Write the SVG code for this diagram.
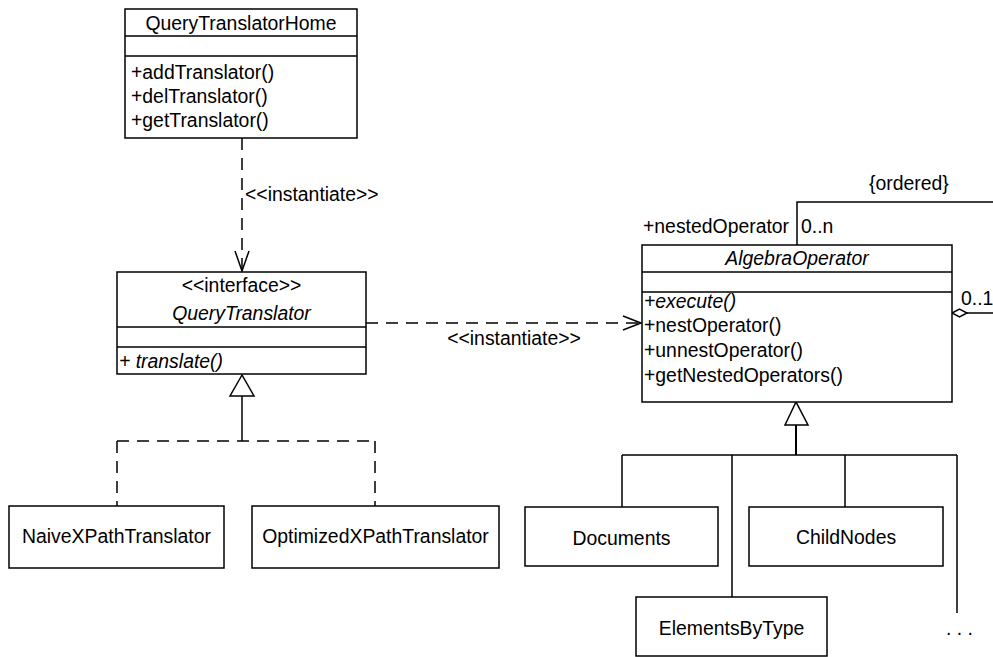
<svg xmlns="http://www.w3.org/2000/svg" width="993" height="657" viewBox="0 0 993 657">
<style>
.box{fill:#fff;stroke:#000;stroke-width:1.5}
.ln{fill:none;stroke:#000;stroke-width:1.5}
.dash{fill:none;stroke:#000;stroke-width:1.5;stroke-dasharray:12 8}
text{font-family:"Liberation Sans",Arial,Helvetica,sans-serif;font-size:19.4px;fill:#000}
.c{text-anchor:middle}
.i{font-style:italic}
</style>
<rect width="993" height="657" fill="#fff"/>
<g id="connectors">
  <path class="dash" d="M242,138 V270"/>
  <path class="ln" d="M235,251 L242,271 L249,251"/>
  <text x="245" y="201">&lt;&lt;instantiate&gt;&gt;</text>
  <path class="dash" d="M366,323 H640"/>
  <path class="ln" d="M623,316 L641,323 L623,330"/>
  <text class="c" x="514" y="345">&lt;&lt;instantiate&gt;&gt;</text>
  <polygon class="box" points="242,375 230,396 254,396"/>
  <path class="ln" d="M242,396 V441"/>
  <path class="dash" d="M117,441 H375 M117,441 V506 M375,441 V506"/>
  <polygon class="box" points="796,402 785,425 808,425"/>
  <path class="ln" style="stroke-width:2" d="M796,425 V455"/>
  <path class="ln" d="M622,455 H957 M622,455 V507 M732,455 V597 M845,455 V507 M957,455 V613"/>
  <path class="ln" d="M797,245 V202 H993 M967,313 H993"/>
  <polygon class="box" points="952,313 959.5,309 967,313 959.5,317"/>
  <text x="869" y="190">{ordered}</text>
  <text x="643" y="233">+nestedOperator</text>
  <text x="801" y="233">0..n</text>
  <text x="961" y="305">0..1</text>
</g>
<g id="QueryTranslatorHome">
  <rect class="box" x="125" y="9" width="232" height="129"/>
  <path class="ln" d="M125,36 H357 M125,56 H357"/>
  <text class="c" x="241" y="30">QueryTranslatorHome</text>
  <text x="131" y="79">+addTranslator()</text>
  <text x="131" y="103">+delTranslator()</text>
  <text x="131" y="127">+getTranslator()</text>
</g>
<g id="QueryTranslator">
  <rect class="box" x="117" y="272" width="249" height="102"/>
  <path class="ln" d="M117,327 H366 M117,347 H366"/>
  <text class="c" x="241.5" y="292">&lt;&lt;interface&gt;&gt;</text>
  <text class="c i" x="241.5" y="320">QueryTranslator</text>
  <text class="i" x="119" y="368">+ translate()</text>
</g>
<g id="AlgebraOperator">
  <rect class="box" x="642" y="245" width="310" height="157"/>
  <path class="ln" d="M642,272 H952 M642,292 H952"/>
  <text class="c i" x="797" y="265">AlgebraOperator</text>
  <text class="i" x="644" y="308">+execute()</text>
  <text x="644" y="332">+nestOperator()</text>
  <text x="644" y="357">+unnestOperator()</text>
  <text x="644" y="382">+getNestedOperators()</text>
</g>
<g id="NaiveXPathTranslator">
  <rect class="box" x="9" y="506" width="215" height="62"/>
  <text class="c" x="116.5" y="543">NaiveXPathTranslator</text>
</g>
<g id="OptimizedXPathTranslator">
  <rect class="box" x="252" y="506" width="247" height="62"/>
  <text class="c" x="375.5" y="543">OptimizedXPathTranslator</text>
</g>
<g id="Documents">
  <rect class="box" x="525" y="507" width="193" height="59"/>
  <text class="c" x="621.5" y="545">Documents</text>
</g>
<g id="ChildNodes">
  <rect class="box" x="749" y="507" width="194" height="59"/>
  <text class="c" x="846" y="544">ChildNodes</text>
</g>
<g id="ElementsByType">
  <rect class="box" x="636" y="597" width="191" height="59"/>
  <text class="c" x="731.5" y="635">ElementsByType</text>
</g>
<g id="more">
  <text x="946" y="635">. . .</text>
</g>
</svg>
